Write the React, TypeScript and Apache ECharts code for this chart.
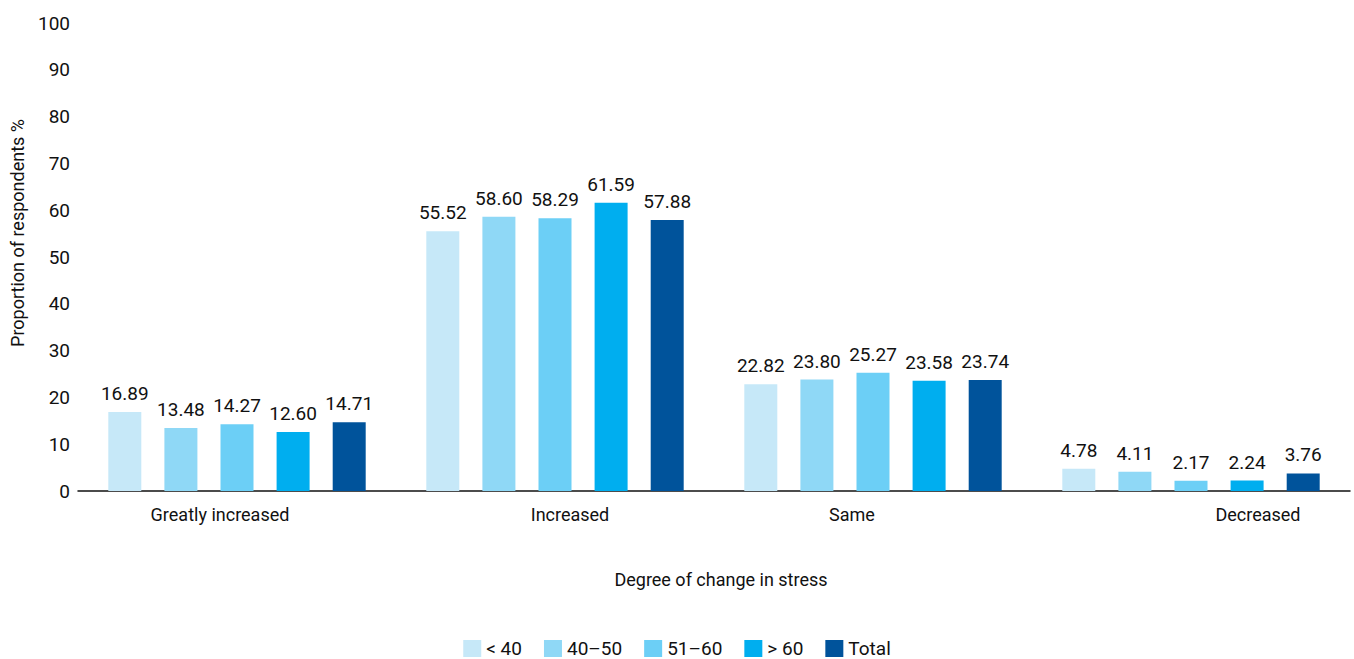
import React, { useEffect, useRef } from "react";
import * as echarts from "echarts";

const categories = ["Greatly increased", "Increased", "Same", "Decreased"];
const seriesNames = ["< 40", "40–50", "51–60", "> 60", "Total"];
const under40 = [16.89, 55.52, 22.82, 4.78];
const age40to50 = [13.48, 58.6, 23.8, 4.11];
const age51to60 = [14.27, 58.29, 25.27, 2.17];
const over60 = [12.6, 61.59, 23.58, 2.24];
const total = [14.71, 57.88, 23.74, 3.76];
const colors = ["#C6E8F8", "#8FD8F6", "#6CCFF6", "#00AEEF", "#00539B"];
const yTicks = { min: 0, max: 100, interval: 10 };
// horizontal label shift (px) of each category label, as in the reference layout
const labelShift = [-17, 15, -21, 67];

const FONT = "Roboto";
const TXT = "#111111";

export default function App() {
  const ref = useRef<HTMLDivElement>(null);
  useEffect(() => {
    document.body.style.margin = "0";
    const chart = echarts.init(ref.current!, null, { renderer: "svg" });
    const data = [under40, age40to50, age51to60, over60, total];
    const rich: Record<string, any> = {};
    labelShift.forEach((s, i) => {
      rich["c" + i] = {
        fontFamily: FONT,
        fontSize: 18,
        color: TXT,
        padding: s >= 0 ? [0, 0, 0, 2 * s] : [0, -2 * s, 0, 0],
      };
    });
    chart.setOption({
      animation: false,
      textStyle: { fontFamily: FONT },
      grid: { left: 78, right: 4, top: 23, bottom: 168, containLabel: false },
      legend: {
        top: 634,
        left: "center",
        itemWidth: 18,
        itemHeight: 17,
        itemGap: 22,
        icon: "rect",
        textStyle: { fontFamily: FONT, fontSize: 19, color: TXT },
        data: seriesNames,
      },
      xAxis: {
        type: "category",
        data: categories,
        name: "Degree of change in stress",
        nameLocation: "middle",
        nameGap: 79,
        nameTextStyle: { fontFamily: FONT, fontSize: 18, color: TXT, padding: [0, 0, 0, 14] },
        axisLine: { show: true, lineStyle: { color: TXT, width: 1.5 } },
        axisTick: { show: false },
        axisLabel: {
          fontFamily: FONT,
          fontSize: 18,
          color: TXT,
          margin: 14,
          formatter: (v: string, i: number) => `{c${i}|${v}}`,
          rich,
        },
      },
      yAxis: {
        type: "value",
        min: yTicks.min,
        max: yTicks.max,
        interval: yTicks.interval,
        name: "Proportion of respondents %",
        nameLocation: "middle",
        nameGap: 52,
        nameRotate: 90,
        nameTextStyle: { fontFamily: FONT, fontSize: 18, color: TXT, padding: [0, 0, 0, 48] },
        axisLine: { show: false },
        axisTick: { show: false },
        splitLine: { show: false },
        axisLabel: { fontFamily: FONT, fontSize: 19, color: TXT, margin: 8 },
      },
      series: seriesNames.map((name, i) => ({
        name,
        type: "bar",
        data: data[i],
        barWidth: 33,
        barGap: "70%",
        itemStyle: { color: colors[i] },
        label: {
          show: true,
          position: "top",
          distance: 9,
          fontFamily: FONT,
          fontSize: 19,
          color: TXT,
          formatter: (p: any) => p.value.toFixed(2),
        },
      })),
    });
    return () => chart.dispose();
  }, []);
  return <div ref={ref} style={{ width: 1354, height: 659 }} />;
}
